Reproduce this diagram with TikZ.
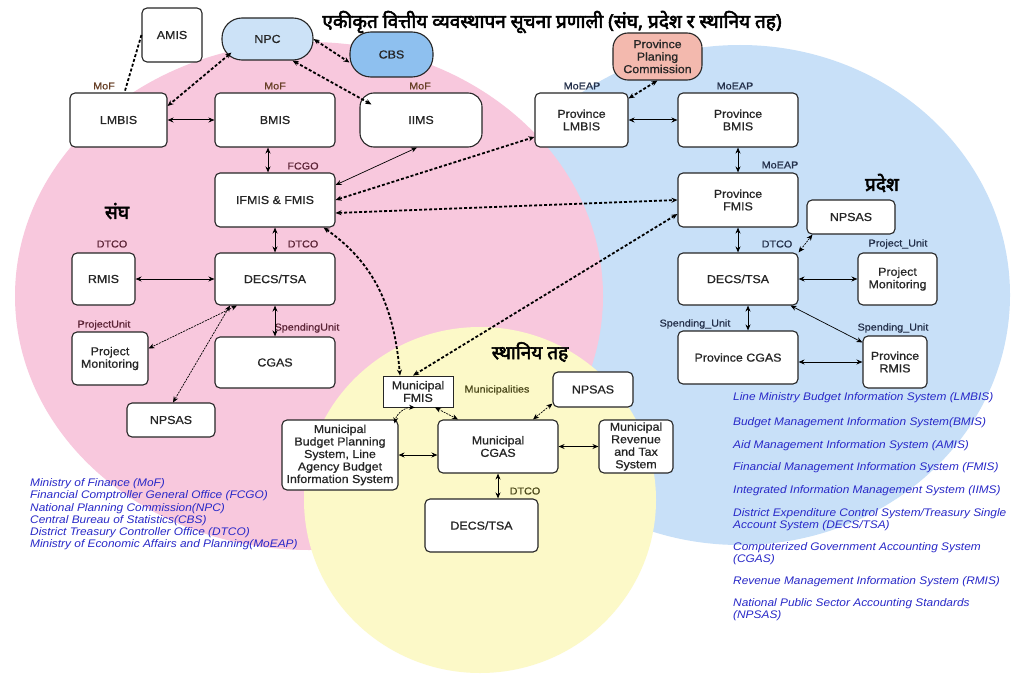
\documentclass[tikz,border=0pt]{standalone}
\usepackage{fontspec}
\setmainfont{Liberation Sans}[FakeStretch=1.08]
\newfontfamily\boxfont{Liberation Sans}[FakeStretch=1.08, FakeBold=0.8]
\newfontfamily\devfont[Script=Devanagari, FakeBold=3]{Noto Sans}
\usepackage{tikz}
\usetikzlibrary{arrows.meta}

\definecolor{sanghpink}{HTML}{F8C8DD}
\definecolor{pradeshblue}{HTML}{C8E0F8}
\definecolor{localyellow}{HTML}{FCF9C8}
\definecolor{npcblue}{HTML}{CCE2F7}
\definecolor{cbsblue}{HTML}{8EC0EF}
\definecolor{ppcpink}{HTML}{F3B9AE}
\definecolor{legblue}{HTML}{2828C8}
\definecolor{pinklbl}{HTML}{5C2436}
\definecolor{bluelbl}{HTML}{24304A}
\definecolor{yellowlbl}{HTML}{4D4A1C}

\begin{document}
\begin{tikzpicture}[x=1pt, y=-1pt,
  sysbox/.style={draw=black!85, line width=1.1pt, fill=white, rounded corners=5pt,
    align=center, inner sep=1pt, text=black!85, font=\boxfont\fontsize{11.5}{12.5}\selectfont},
  unitlbl/.style={inner sep=0pt, font=\boxfont\fontsize{10}{11}\selectfont},
  regionlbl/.style={inner sep=0pt, font=\devfont\fontsize{19}{22}\selectfont},
  link/.style={{Stealth[length=6pt,width=5pt]}-{Stealth[length=6pt,width=5pt]}, line width=1pt},
  dlink/.style={link, line width=1.8pt, dash pattern=on 3pt off 2pt},
  tlink/.style={link, line width=0.7pt, dash pattern=on 2pt off 1pt},
  thinlink/.style={link, line width=0.7pt},
  legtext/.style={anchor=north west, inner sep=0pt, align=left, text=legblue,
    font=\fontsize{11}{12.2}\selectfont\itshape}]

\fill[white] (0,0) rectangle (1017,674);
\useasboundingbox (0,0) rectangle (1017,674);

% Three levels
\fill[pradeshblue] (740,295) ellipse [x radius=270, y radius=250];
\fill[sanghpink] (309,296) ellipse [x radius=294, y radius=254];
\fill[localyellow] (480,500) ellipse [x radius=176, y radius=173];

% Title and level names
\node[font=\devfont\fontsize{19}{22}\selectfont] (title) at (552,22)
  {एकीकृत वित्तीय व्यवस्थापन सूचना प्रणाली (संघ, प्रदेश र स्थानिय तह)};
\node[regionlbl] (sangh) at (117,211) {संघ};
\node[regionlbl] (pradesh) at (882,183) {प्रदेश};
\node[regionlbl] (sthaniya) at (530,352) {स्थानिय तह};

% Federal systems
\node[sysbox, minimum width=60, minimum height=54] (amis) at (172,35) {AMIS};
\node[sysbox, fill=npcblue, rounded corners=20pt, minimum width=91, minimum height=42] (npc) at (267.5,39) {NPC};
\node[sysbox, fill=cbsblue, rounded corners=21pt, minimum width=83, minimum height=45] (cbs) at (391.5,54.5) {CBS};
\node[sysbox, minimum width=97, minimum height=54] (lmbis) at (118.5,120) {LMBIS};
\node[sysbox, minimum width=120, minimum height=54] (bmis) at (275,120) {BMIS};
\node[sysbox, rounded corners=14pt, minimum width=122, minimum height=54] (iims) at (421,120) {IIMS};
\node[sysbox, minimum width=120, minimum height=54] (ifmis) at (275,200) {IFMIS \& FMIS};
\node[sysbox, minimum width=63, minimum height=52] (rmis) at (103.5,279) {RMIS};
\node[sysbox, minimum width=120, minimum height=52] (decs) at (275,279) {DECS/TSA};
\node[sysbox, minimum width=76, minimum height=53] (projmon) at (110,358.5) {Project\\Monitoring};
\node[sysbox, minimum width=120, minimum height=51] (cgas) at (275,362.5) {CGAS};
\node[sysbox, minimum width=88, minimum height=34] (npsas) at (171,420) {NPSAS};

\node[unitlbl, text=pinklbl!70!olive] (moflm) at (104,86) {MoF};
\node[unitlbl, text=pinklbl!70!olive] (mofbm) at (275,86) {MoF};
\node[unitlbl, text=pinklbl!70!olive] (mofii) at (420,86) {MoF};
\node[unitlbl, text=pinklbl] (fcgo) at (303,166) {FCGO};
\node[unitlbl, text=pinklbl] (dtcorm) at (112,244) {DTCO};
\node[unitlbl, text=pinklbl] (dtcode) at (303,244) {DTCO};
\node[unitlbl, text=pinklbl] (projunit) at (104,325) {ProjectUnit};
\node[unitlbl, text=pinklbl] (spendunit) at (307,328) {SpendingUnit};

% Province systems
\node[sysbox, fill=ppcpink, rounded corners=15pt, minimum width=89, minimum height=47] (ppc) at (657.5,56.5) {Province\\Planing\\Commission};
\node[sysbox, minimum width=93, minimum height=54] (plmbis) at (581.5,120) {Province\\LMBIS};
\node[sysbox, minimum width=120, minimum height=54] (pbmis) at (738,120) {Province\\BMIS};
\node[sysbox, minimum width=120, minimum height=54] (pfmis) at (738,200) {Province\\FMIS};
\node[sysbox, minimum width=88, minimum height=34] (pnpsas) at (851,217) {NPSAS};
\node[sysbox, minimum width=120, minimum height=52] (pdecs) at (738,279) {DECS/TSA};
\node[sysbox, minimum width=79, minimum height=52] (pprojmon) at (897.5,279) {Project\\Monitoring};
\node[sysbox, minimum width=120, minimum height=53] (pcgas) at (738,357.5) {Province CGAS};
\node[sysbox, minimum width=64, minimum height=52] (prmis) at (895,362) {Province\\RMIS};

\node[unitlbl, text=bluelbl] (moeaplm) at (582,86) {MoEAP};
\node[unitlbl, text=bluelbl] (moeapbm) at (735,86) {MoEAP};
\node[unitlbl, text=bluelbl] (moeapfm) at (780,165) {MoEAP};
\node[unitlbl, text=bluelbl] (pdtco) at (777,244) {DTCO};
\node[unitlbl, text=bluelbl] (pprojunit) at (898,244) {Project\_Unit};
\node[unitlbl, text=bluelbl] (pspendcg) at (695,324) {Spending\_Unit};
\node[unitlbl, text=bluelbl] (pspendrm) at (893,328) {Spending\_Unit};

% Local systems
\node[sysbox, rounded corners=0pt, line width=0.9pt, minimum width=70, minimum height=31] (mfmis) at (418,391.5) {Municipal\\FMIS};
\node[sysbox, minimum width=116, minimum height=70] (mbps) at (340,455) {Municipal\\Budget Planning\\System, Line\\Agency Budget\\Information System};
\node[sysbox, minimum width=120, minimum height=53] (mcgas) at (498,446.5) {Municipal\\CGAS};
\node[sysbox, minimum width=74, minimum height=53] (mrev) at (636,446.5) {Municipal\\Revenue\\and Tax\\System};
\node[sysbox, minimum width=80, minimum height=35] (lnpsas) at (593,389.5) {NPSAS};
\node[sysbox, minimum width=113, minimum height=53] (ldecs) at (481.5,525.5) {DECS/TSA};

\node[unitlbl, text=yellowlbl] (munis) at (497,390) {Municipalities};
\node[unitlbl, text=yellowlbl] (ldtco) at (525,491) {DTCO};

% Federal links
\draw[line width=1.8pt, dash pattern=on 3pt off 2pt] (amis.west) -- ([xshift=6pt]lmbis.north);
\draw[dlink] ([xshift=10pt,yshift=8pt]npc.south west) -- ([yshift=14pt]lmbis.east);
\draw[dlink] (npc.east) -- ([yshift=-8pt]cbs.west);
\draw[dlink] ([xshift=25pt]npc.south) -- ([xshift=12pt,yshift=-12pt]iims.north west);
\draw[link] (lmbis.east) -- (bmis.west);
\draw[link] ([xshift=-7pt]bmis.south) -- ([xshift=-7pt]ifmis.north);
\draw[thinlink] ([xshift=-4pt]iims.south) -- ([yshift=15pt]ifmis.east);
\draw[link] (ifmis.south) -- (decs.north);
\draw[link] (rmis.east) -- (decs.west);
\draw[link] (decs.south) -- (cgas.north);
\draw[tlink] ([xshift=-38pt]decs.south) -- ([yshift=10pt]projmon.east);
\draw[tlink] ([xshift=-45pt]decs.south) -- ([xshift=2pt]npsas.north);

% Links between levels
\draw[dlink] (ifmis.east) -- ([yshift=-17pt]plmbis.west);
\draw[dlink] ([yshift=-13pt]ifmis.east) -- (pfmis.west);
\draw[dlink] ([xshift=-12pt]ifmis.south east) to[out=-35,in=95] ([xshift=-18pt]mfmis.north);
\draw[dlink] ([yshift=-14pt]pfmis.west) -- ([xshift=-5pt]mfmis.north);

% Province links
\draw[dlink] (ppc.south) -- ([yshift=-6pt]plmbis.north east);
\draw[link] (plmbis.east) -- (pbmis.west);
\draw[link] (pbmis.south) -- (pfmis.north);
\draw[link] (pfmis.south) -- (pdecs.north);
\draw[tlink] (pdecs.north east) -- ([xshift=6pt]pnpsas.south west);
\draw[link] (pdecs.east) -- (pprojmon.west);
\draw[link] ([xshift=10pt]pdecs.south) -- ([xshift=10pt]pcgas.north);
\draw[thinlink] ([xshift=-8pt]pdecs.south east) -- ([yshift=-7pt]prmis.north west);
\draw[link] (prmis.west -| pcgas.east) -- (prmis.west);

% Local links
\draw[tlink] ([xshift=-3pt]mfmis.south) to[bend right=40] ([xshift=-4pt,yshift=-4pt]mbps.north east);
\draw[tlink] ([xshift=17pt]mfmis.south) -- ([xshift=-40pt]mcgas.north);
\draw[link] (mbps.east) -- (mbps.east -| mcgas.west);
\draw[tlink] ([yshift=4pt]lnpsas.south west) -- ([xshift=35pt]mcgas.north);
\draw[link] (mcgas.east) -- (mrev.west);
\draw[link] (mcgas.south) -- (mcgas.south |- ldecs.north);

% Abbreviations
\node[legtext] (leftlegend) at (30,478.5) {Ministry of Finance (MoF)\\Financial Comptroller General Office (FCGO)\\National Planning Commission(NPC)\\Central Bureau of Statistics(CBS)\\District Treasury Controller Office (DTCO)\\Ministry of Economic Affairs and Planning(MoEAP)};
\node[legtext] (leglmbis) at (733,392.5) {Line Ministry Budget Information System (LMBIS)};
\node[legtext] (legbmis) at (733,417.5) {Budget Management Information System(BMIS)};
\node[legtext] (legamis) at (733,440.5) {Aid Management Information System (AMIS)};
\node[legtext] (legfmis) at (733,462.5) {Financial Management Information System (FMIS)};
\node[legtext] (legiims) at (733,485.5) {Integrated Information Management System (IIMS)};
\node[legtext] (legdecs) at (733,508.5) {District Expenditure Control System/Treasury Single\\Account System (DECS/TSA)};
\node[legtext] (legcgas) at (733,542.5) {Computerized Government Accounting System\\(CGAS)};
\node[legtext] (legrmis) at (733,576.5) {Revenue Management Information System (RMIS)};
\node[legtext] (legnpsas) at (733,598.5) {National Public Sector Accounting Standards\\(NPSAS)};

\end{tikzpicture}
\end{document}
